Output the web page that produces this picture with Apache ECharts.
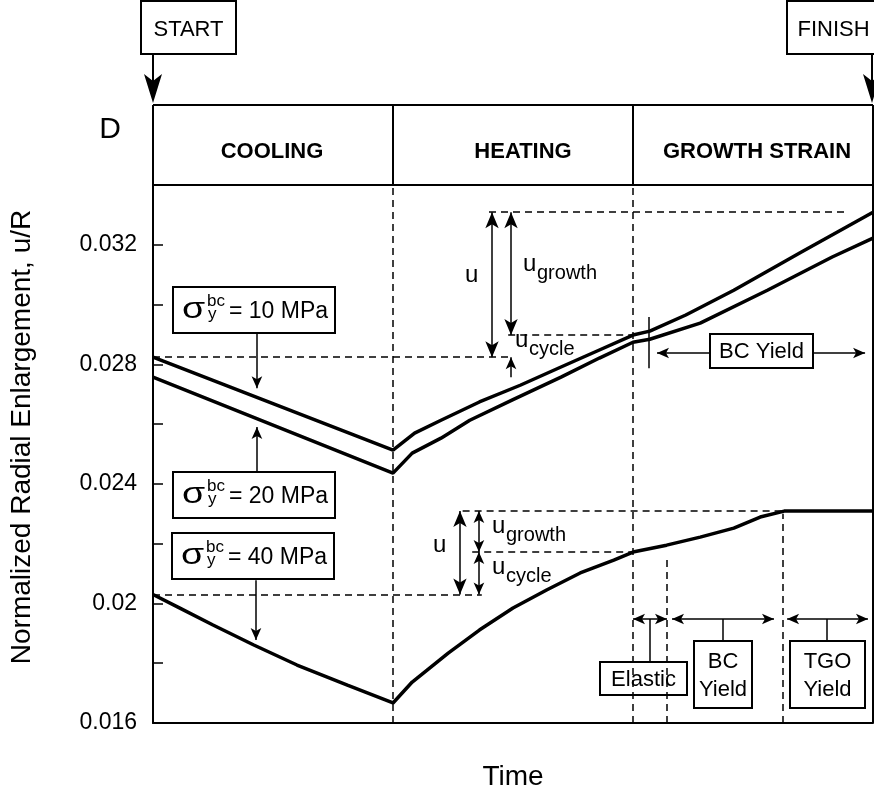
<!DOCTYPE html>
<html>
<head>
<meta charset="utf-8">
<script src="https://cdn.jsdelivr.net/npm/echarts@6/dist/echarts.min.js"></script>
<style>
  html, body { margin: 0; padding: 0; background: #fff; }
  #chart { width: 874px; height: 797px; }
</style>
</head>
<body>
<div id="chart"></div>
<script>
const FONT = '"Liberation Sans", Arial, Helvetica, sans-serif';

// Time runs over three phases of one unit each
const phases = ['COOLING', 'HEATING', 'GROWTH STRAIN'];
const yTickLabels = ['0.016', '0.02', '0.024', '0.028', '0.032'];
const yMin = 0.016, yMax = 0.034, yStep = 0.002;

// sigma_y^bc = 10 MPa
const t10 = [0, 1, 1.09, 1.2, 1.36, 1.53, 1.7, 1.86, 2, 2.07, 2.22, 2.42, 2.7, 3];
const u10 = [0.02824, 0.02513, 0.0257, 0.02613, 0.02674, 0.0273, 0.02791, 0.02848, 0.02898, 0.02911, 0.02965, 0.03048, 0.03175, 0.03309];
// sigma_y^bc = 20 MPa
const t20 = [0, 1, 1.08, 1.2, 1.32, 1.5, 1.7, 1.86, 2, 2.07, 2.28, 2.56, 2.83, 3];
const u20 = [0.02757, 0.02436, 0.02503, 0.02553, 0.02613, 0.02682, 0.02757, 0.02821, 0.02874, 0.02884, 0.02938, 0.03048, 0.03159, 0.03222];
// sigma_y^bc = 40 MPa
const t40 = [0, 0.11, 0.25, 0.42, 0.6, 0.81, 1, 1.08, 1.23, 1.36, 1.5, 1.64, 1.78, 1.92, 2, 2.14, 2.28, 2.42, 2.53, 2.63, 3];
const u40 = [0.0203, 0.01985, 0.01928, 0.01861, 0.01794, 0.01727, 0.01667, 0.01737, 0.01834, 0.01911, 0.01985, 0.02045, 0.02102, 0.02145, 0.02172, 0.02195, 0.02222, 0.02252, 0.02289, 0.02309, 0.02309];

const pairs = (ts, us) => ts.map((t, i) => [t, us[i]]);
const at = (ts, us, t) => us[ts.indexOf(t)];

// reference levels taken from the curves
const start10 = u10[0], heatEnd10 = at(t10, u10, 2), final10 = u10[u10.length - 1];
const start40 = u40[0], heatEnd40 = at(t40, u40, 2), final40 = u40[u40.length - 1];

const BIG = [10, 16], SMALL = [8, 12];
function seg(a, b, s0, s1, size) {
  return [
    { coord: a, symbol: s0 || 'none', symbolSize: size || BIG },
    { coord: b, symbol: s1 || 'none', symbolSize: size || BIG }
  ];
}

const bracketV = 0.01948;
const dashed = [
  seg([0, start10], [1.5, start10]),
  seg([1.48, heatEnd10], [2, heatEnd10]),
  seg([1.4, final10], [2.88, final10]),
  seg([0, start40], [1.37, start40]),
  seg([1.33, heatEnd40], [2, heatEnd40]),
  seg([1.29, final40], [2.62, final40]),
  seg([1, yMin], [1, yMax]),
  seg([2, yMin], [2, yMax]),
  seg([2.142, yMin], [2.142, 0.02155]),
  seg([2.625, yMin], [2.625, 0.0230])
];
const solid = [
  // u, u_growth, u_cycle (upper pair)
  seg([1.4125, final10], [1.4125, start10], 'arrow', 'arrow'),
  seg([1.4917, final10], [1.4917, heatEnd10], 'arrow', 'arrow'),
  seg([1.4917, 0.02757], [1.4917, start10], 'none', 'arrow', SMALL),
  // u, u_growth, u_cycle (40 MPa)
  seg([1.279, final40], [1.279, start40], 'arrow', 'arrow'),
  seg([1.358, final40], [1.358, heatEnd40], 'arrow', 'arrow', SMALL),
  seg([1.358, heatEnd40], [1.358, start40], 'arrow', 'arrow', SMALL),
  // onset of bond coat yield
  seg([2.067, 0.02958], [2.067, 0.02787]),
  seg([2.32, 0.02838], [2.1, 0.02838], 'none', 'arrow', SMALL),
  seg([2.75, 0.02838], [2.967, 0.02838], 'none', 'arrow', SMALL),
  // regime brackets
  seg([2.0, bracketV], [2.1417, bracketV], 'arrow', 'arrow', SMALL),
  seg([2.07, bracketV], [2.07, 0.01804]),
  seg([2.1625, bracketV], [2.5875, bracketV], 'arrow', 'arrow', SMALL),
  seg([2.375, bracketV], [2.375, 0.01874]),
  seg([2.642, bracketV], [2.979, bracketV], 'arrow', 'arrow', SMALL),
  seg([2.808, bracketV], [2.808, 0.01874]),
  // pointers from the yield-strength boxes
  seg([0.433, 0.02904], [0.433, 0.0272], 'none', 'arrow', SMALL),
  seg([0.433, 0.02439], [0.433, 0.0259], 'none', 'arrow', SMALL),
  seg([0.429, 0.02078], [0.429, 0.01878], 'none', 'arrow', SMALL)
];

const curveStyle = { color: '#000', width: 3.5 };
const curve = (name, ts, us) => ({
  name, type: 'line', data: pairs(ts, us), showSymbol: false, smooth: false,
  lineStyle: curveStyle, silent: true, z: 5
});

const chart = echarts.init(document.getElementById('chart'), null, { renderer: 'canvas' });
chart.setOption({
  animation: false,
  backgroundColor: '#fff',
  grid: { left: 153, right: 1, top: 185, bottom: 74 },
  xAxis: {
    type: 'value', min: 0, max: 3,
    axisLine: { show: true, lineStyle: { color: '#000', width: 2 } },
    axisTick: { show: false }, axisLabel: { show: false }, splitLine: { show: false }
  },
  yAxis: {
    type: 'value', min: yMin, max: yMax, interval: yStep,
    axisLine: { show: true, lineStyle: { color: '#000', width: 2 } },
    axisTick: { show: true, inside: true, length: 10, lineStyle: { color: '#000', width: 1.5 } },
    axisLabel: {
      color: '#000', fontSize: 23, fontFamily: FONT, margin: 16,
      formatter: v => { const s = String(+(+v).toFixed(3)); return yTickLabels.includes(s) ? s : ''; }
    },
    splitLine: { show: false }
  },
  series: [
    curve('10 MPa', t10, u10),
    curve('20 MPa', t20, u20),
    curve('40 MPa', t40, u40),
    {
      name: 'guides', type: 'line', data: [], silent: true,
      markLine: { silent: true, animation: false, label: { show: false }, symbol: 'none',
        lineStyle: { color: '#000', width: 1.5, type: [7, 5] }, data: dashed, emphasis: { disabled: true } }
    },
    {
      name: 'arrows', type: 'line', data: [], silent: true,
      markLine: { silent: true, animation: false, label: { show: false }, symbol: 'none',
        lineStyle: { color: '#000', width: 1.5, type: 'solid' },
        itemStyle: { color: '#000' }, data: solid, emphasis: { disabled: true } }
    }
  ]
});

// ----- frame, header and annotation text -----
const P = (t, v) => chart.convertToPixel({ gridIndex: 0 }, [t, v]);
const [xL, yTop] = P(0, yMax);
const [xR, yBot] = P(3, yMin);
const headTop = yTop - 80;

function line(x1, y1, x2, y2, w) {
  return { type: 'line', silent: true, shape: { x1, y1, x2, y2 }, style: { stroke: '#000', lineWidth: w || 2 } };
}
function rect(x, y, w, h) {
  return { type: 'rect', silent: true, shape: { x, y, width: w, height: h }, style: { fill: '#fff', stroke: '#000', lineWidth: 2 } };
}
function textAt(x, y, str, size, opt) {
  const o = Object.assign({ align: 'left', weight: 'normal' }, opt || {});
  return {
    type: 'text', silent: true, x, y, z: 10, scaleX: o.scaleX || 1,
    style: {
      text: str, fill: '#000', font: `${o.weight} ${size}px ${o.family || FONT}`,
      align: o.align, textAlign: o.align, verticalAlign: 'middle', textVerticalAlign: 'middle',
      lineHeight: o.lineHeight
    }
  };
}
// place text by its baseline
const text = (x, baseline, str, size, opt) => textAt(x, baseline - size * 0.31, str, size, opt);

function sigmaBox(x, y, mpa) {
  return [
    rect(x, y, 162, 46),
    text(x + 9, y + 32, 'σ', 30, { scaleX: 1.25 }),
    text(x + 34, y + 20, 'bc', 17),
    text(x + 35, y + 33, 'y', 17),
    text(x + 56, y + 32, '= ' + mpa + ' MPa', 23)
  ];
}
function subLabel(x, baseline, main, sub) {
  return [text(x, baseline, main, 24), text(x + 14, baseline + 8, sub, 20)];
}

const g = [];
// header band
g.push(line(xL, headTop, xR, headTop), line(xL, yTop, xR, yTop),
       line(xL, headTop, xL, yTop), line(xR, headTop, xR, yBot));
const xs = [1, 2].map(t => P(t, yMax)[0]);
g.push(line(xs[0], headTop, xs[0], yTop), line(xs[1], headTop, xs[1], yTop));
const phaseCenters = [272, 523, 757];
phases.forEach((p, i) => g.push(textAt(phaseCenters[i], 151.5, p, 22, { align: 'center', weight: 'bold' })));

// start / finish markers
g.push(rect(141, 1, 95, 53), textAt(188.5, 29.5, 'START', 22, { align: 'center' }));
g.push(line(xL, 54, xL, 82), { type: 'polygon', silent: true, shape: { points: [[xL - 9, 74], [xL, 81], [xL + 9, 74], [xL, 103]] }, style: { fill: '#000' } });
g.push(rect(787, 1, 95, 53), textAt(833.5, 29.5, 'FINISH', 22, { align: 'center' }));
g.push(line(xR - 1, 54, xR - 1, 82), { type: 'polygon', silent: true, shape: { points: [[xR - 10, 74], [xR - 1, 81], [xR + 8, 74], [xR - 1, 103]] }, style: { fill: '#000' } });

g.push(textAt(110, 130, 'D', 30, { align: 'center' }));
g.push(textAt(513, 777, 'Time', 28, { align: 'center' }));
g.push({ type: 'text', silent: true, x: 22, y: 437, rotation: Math.PI / 2,
  style: { text: 'Normalized Radial Enlargement, u/R', fill: '#000', font: `28px ${FONT}`,
    align: 'center', textAlign: 'center', verticalAlign: 'middle', textVerticalAlign: 'middle' } });

// yield strength boxes
g.push(...sigmaBox(173, 287, 10), ...sigmaBox(173, 472, 20), ...sigmaBox(172, 533, 40));

// displacement labels
g.push(text(465, 283, 'u', 24), ...subLabel(523, 272, 'u', 'growth'), ...subLabel(515, 348, 'u', 'cycle'));
g.push(text(433, 553, 'u', 24), ...subLabel(492, 534, 'u', 'growth'), ...subLabel(492, 575, 'u', 'cycle'));

// regime boxes
g.push(rect(710, 334, 103, 34), textAt(761.5, 352, 'BC Yield', 22, { align: 'center' }));
g.push(rect(600, 662, 87, 33), textAt(643.5, 680, 'Elastic', 22, { align: 'center' }));
g.push(rect(694, 641, 58, 67), textAt(723, 675.5, 'BC\nYield', 22, { align: 'center', lineHeight: 28 }));
g.push(rect(790, 641, 75, 67), textAt(827.5, 675.5, 'TGO\nYield', 22, { align: 'center', lineHeight: 28 }));

chart.setOption({ graphic: { elements: g } });
</script>
</body>
</html>
